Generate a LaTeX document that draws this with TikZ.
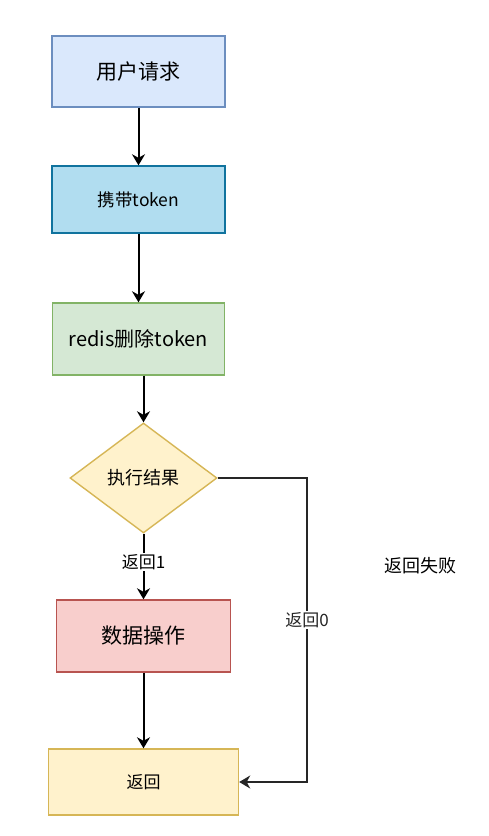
\documentclass[tikz,border=0pt]{standalone}
\usepackage{fontspec}
\setmainfont{Noto Sans CJK SC}
\usetikzlibrary{shapes.geometric,arrows.meta}
\definecolor{blueF}{HTML}{DAE8FC}\definecolor{blueD}{HTML}{6C8EBF}
\definecolor{cyanF}{HTML}{B1DDF0}\definecolor{cyanD}{HTML}{10739E}
\definecolor{greenF}{HTML}{D5E8D4}\definecolor{greenD}{HTML}{82B366}
\definecolor{yelF}{HTML}{FFF2CC}\definecolor{yelD}{HTML}{D6B656}
\definecolor{redF}{HTML}{F8CECC}\definecolor{redD}{HTML}{B85450}
\tikzset{
  box/.style={draw, line width=1.4pt, inner sep=0pt, anchor=center},
  tip/.style={-{Stealth[length=11pt,width=13pt,inset=3.5pt]}},
  flow/.style={line width=2pt, tip},
  lbl/.style={fill=white, inner sep=1pt, font=\fontsize{17}{19}\selectfont}
}
\begin{document}
\begin{tikzpicture}[x=1pt,y=-1pt]
\useasboundingbox (0,0) rectangle (488,836);
\node[box, fill=blueF, draw=blueD, minimum width=173pt, minimum height=71pt, font=\fontsize{21}{23}\selectfont] (req) at (138.5,71.5) {用户请求};
\node[box, fill=cyanF, draw=cyanD, minimum width=173pt, minimum height=67pt, font=\fontsize{17.5}{19}\selectfont] (tok) at (138.5,199.5) {携带token};
\node[box, fill=greenF, draw=greenD, minimum width=172pt, minimum height=72pt, font=\fontsize{20}{22}\selectfont] (del) at (138.5,339) {redis删除token};
\node[diamond, draw=yelD, fill=yelF, line width=1.4pt, inner sep=0pt, minimum width=147pt, minimum height=110pt, aspect=1.34, font=\fontsize{18}{20}\selectfont] (dia) at (143.5,478) {执行结果};
\node[box, fill=redF, draw=redD, minimum width=174pt, minimum height=72pt, font=\fontsize{21}{23}\selectfont] (data) at (143.5,636) {数据操作};
\node[box, fill=yelF, draw=yelD, minimum width=190pt, minimum height=66pt, font=\fontsize{17}{19}\selectfont] (ret) at (143.5,782) {返回};
\node[font=\fontsize{18}{20}\selectfont] (fail) at (420,566) {返回失败};
\coordinate (c1) at (307,478);
\coordinate (c2) at (307,782);
\draw[flow] (req.south) -- (tok.north);
\draw[flow] (tok.south) -- (del.north);
\draw[flow] (del.south -| dia.north) -- (dia.north);
\draw[flow] (dia.south) -- node[lbl, pos=0.43] {返回1} (data.north);
\draw[flow] (data.south) -- (ret.north);
\draw[line width=1.7pt, black!85, tip] (dia.east) -- (c1) -- node[lbl, pos=0.467] {返回0} (c2) -- (ret.east);
\end{tikzpicture}
\end{document}
